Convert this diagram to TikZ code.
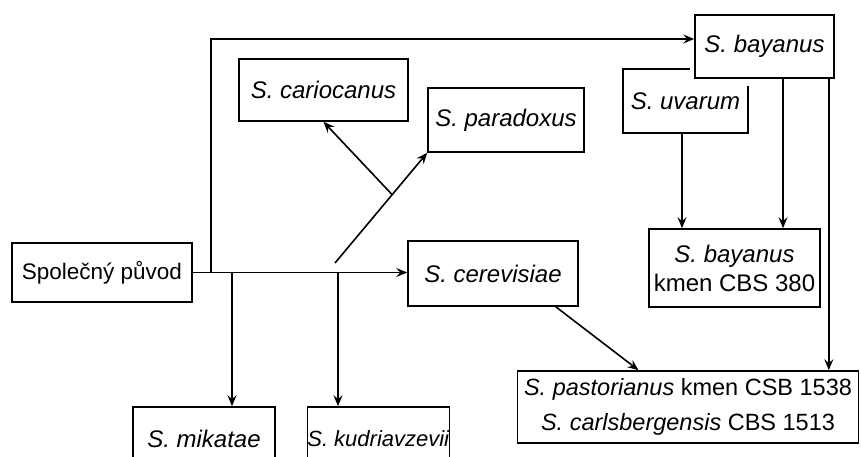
\documentclass[tikz,border=0pt]{standalone}
\usepackage{fontspec}
\setmainfont{Liberation Sans}
\usetikzlibrary{arrows.meta,calc}
\begin{document}
\begin{tikzpicture}[x=1pt,y=-1pt,
  box/.style={draw,line width=1.6pt,fill=white,inner sep=0pt,align=center,
              font=\fontsize{24}{29}\selectfont},
  arr/.style={line width=1.6pt,-{Stealth[length=11pt,width=9pt,inset=4pt]}}]
\useasboundingbox (0,0) rectangle (861,457);
\clip (0,0) rectangle (861,457);

% species boxes
\node[box,minimum width=180pt,minimum height=59pt,font=\fontsize{22.5}{28}\selectfont] (spol) at (102,272.5) {Společný původ};
\node[box,minimum width=169pt,minimum height=62pt] (cario) at (323.5,90) {\textit{S. cariocanus}};
\node[box,minimum width=156pt,minimum height=64pt] (para) at (506,120) {\textit{S. paradoxus}};
\node[box,minimum width=125pt,minimum height=64pt] (uva) at (685.5,101) {\textit{S. uvarum}};
% white margin so that S. bayanus sits in front of S. uvarum
\fill[white] (690,10) rectangle (840,86);
\node[box,minimum width=139pt,minimum height=63pt] (bay) at (764.5,46.5) {\textit{S. bayanus}};
\node[box,minimum width=171pt,minimum height=78pt] (cbs) at (734.5,268) {\textit{S. bayanus}\\kmen CBS 380};
\node[box,minimum width=170pt,minimum height=65pt] (cere) at (493,273.5) {\textit{S. cerevisiae}};
\node[box,minimum width=341pt,minimum height=72pt,font=\fontsize{23.5}{35}\selectfont] (past) at (688,407)
  {\textit{S. pastorianus} kmen CSB 1538\\\textit{S. carlsbergensis} CBS 1513};
\node[box,minimum width=142pt,minimum height=64pt] (mik) at (204,439) {\textit{S. mikatae}};
\node[box,minimum width=139pt,minimum height=64pt,font=\fontsize{22}{28}\selectfont] (kud) at (378.5,439) {\textit{S. kudriavzevii}};

% branching points on the common stem
\coordinate (ja) at (211,272.5);
\coordinate (jb) at (232,272.5);
\coordinate (jc) at (338,272.5);
\coordinate (jd) at (335,263);

% connectors
\draw[arr] (spol.east) -- (spol.east -| cere.west);
\draw[arr] (ja) |- ([yshift=7.5pt]bay.west);
\draw[arr] (jb) -- (jb |- mik.north);
\draw[arr] (jc) -- (jc |- kud.north);
\draw[arr] (jd) -- (para.south west);
\draw[arr] ($(jd)!0.62!(para.south west)$) -- (cario.south);
\draw[arr] ([xshift=-3.5pt]uva.south) -- ([xshift=-3.5pt]uva.south |- cbs.north);
\draw[arr] ([xshift=18.5pt]bay.south) -- ([xshift=18.5pt]bay.south |- cbs.north);
\draw[arr] ([xshift=-6pt]bay.south east) -- ([xshift=-6pt]bay.south east |- past.north);
\draw[arr] ([xshift=-23pt]cere.south east) -- ([xshift=-49.5pt]past.north);
\end{tikzpicture}
\end{document}
